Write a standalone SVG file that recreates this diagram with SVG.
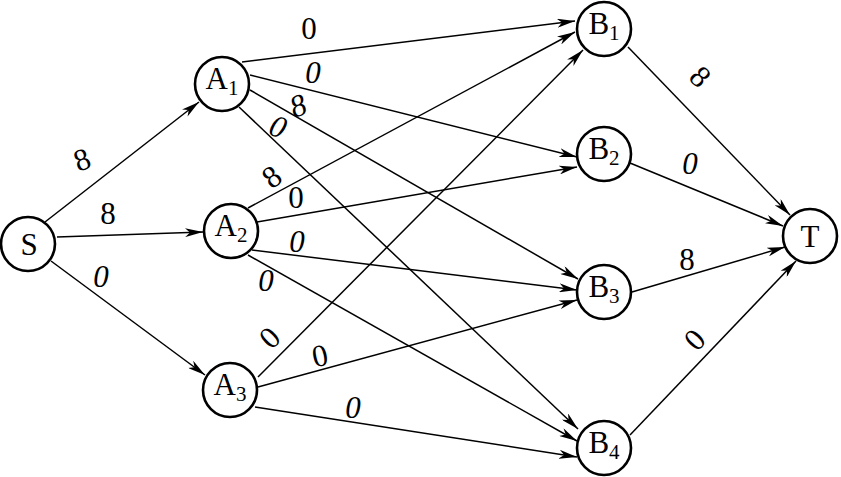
<svg xmlns="http://www.w3.org/2000/svg" width="841" height="477" viewBox="0 0 841 477">
<defs>
<marker id="arr" markerUnits="userSpaceOnUse" markerWidth="19" markerHeight="9" refX="18" refY="4.5" orient="auto">
<path d="M0,0 L18,4.5 L0,9 L5,4.5 Z" fill="#000"/>
</marker>
<style>
.node circle{fill:#fff;stroke:#000;stroke-width:2.6}
.node text{font-family:"Liberation Serif","Times New Roman",serif;font-size:31px;fill:#000;text-anchor:middle}
.node tspan.sub{font-size:21px}
#edges line{stroke:#000;stroke-width:1.5;marker-end:url(#arr)}
.lbl{font-family:"Liberation Serif","Times New Roman",serif;font-size:31px;fill:#000;text-anchor:middle}
.it{font-style:italic}
</style>
</defs>
<rect width="841" height="477" fill="#fff"/>
<g id="edges">
<line x1="45" y1="222" x2="199" y2="102"/>
<line x1="57" y1="237" x2="203" y2="232"/>
<line x1="51" y1="261" x2="205" y2="375"/>
<line x1="242" y1="62" x2="575" y2="21"/>
<line x1="250" y1="75" x2="577" y2="157"/>
<line x1="250" y1="90" x2="578" y2="279"/>
<line x1="239" y1="107" x2="578" y2="429"/>
<line x1="248" y1="208" x2="575" y2="32"/>
<line x1="257" y1="222" x2="577" y2="167"/>
<line x1="252" y1="250" x2="577" y2="290"/>
<line x1="248" y1="255" x2="577" y2="441"/>
<line x1="258" y1="377" x2="583" y2="50"/>
<line x1="258" y1="387" x2="577" y2="300"/>
<line x1="255" y1="407" x2="577" y2="457"/>
<line x1="628" y1="47" x2="790" y2="215"/>
<line x1="630" y1="163" x2="783" y2="226"/>
<line x1="632" y1="292" x2="785" y2="247"/>
<line x1="630" y1="435" x2="796" y2="261"/>
</g>
<g id="labels">
<text class="lbl" transform="translate(82,160) rotate(-20)" y="10">8</text>
<text class="lbl" transform="translate(108,214)" y="10">8</text>
<text class="lbl it" transform="translate(101,277)" y="10">0</text>
<text class="lbl" transform="translate(309,29)" y="10">0</text>
<text class="lbl it" transform="translate(313,73)" y="10">0</text>
<text class="lbl it" transform="translate(298,106) rotate(-20)" y="10">8</text>
<text class="lbl it" transform="translate(278,127) rotate(20)" y="10">0</text>
<text class="lbl" transform="translate(272,177) rotate(-37)" y="10">8</text>
<text class="lbl" transform="translate(296,198)" y="10">0</text>
<text class="lbl it" transform="translate(297,242)" y="10">0</text>
<text class="lbl it" transform="translate(266,281)" y="10">0</text>
<text class="lbl" transform="translate(270,338) rotate(-45)" y="10">0</text>
<text class="lbl" transform="translate(320,356) rotate(-12)" y="10">0</text>
<text class="lbl it" transform="translate(353,408)" y="10">0</text>
<text class="lbl" transform="translate(700,77) rotate(45)" y="10">8</text>
<text class="lbl it" transform="translate(690,164)" y="10">0</text>
<text class="lbl" transform="translate(687,260)" y="10">8</text>
<text class="lbl" transform="translate(695,340) rotate(-46)" y="10">0</text>
</g>
<g id="S" class="node"><circle cx="28" cy="244" r="27"/><text x="29" y="255">S</text></g>
<g id="A1" class="node"><circle cx="222" cy="84" r="27"/><text x="222" y="89">A<tspan class="sub" dy="6">1</tspan></text></g>
<g id="A2" class="node"><circle cx="231" cy="231" r="27"/><text x="231" y="236">A<tspan class="sub" dy="6">2</tspan></text></g>
<g id="A3" class="node"><circle cx="230" cy="390" r="27"/><text x="230" y="395">A<tspan class="sub" dy="6">3</tspan></text></g>
<g id="B1" class="node"><circle cx="604" cy="29" r="27"/><text x="604" y="34">B<tspan class="sub" dy="6">1</tspan></text></g>
<g id="B2" class="node"><circle cx="604" cy="154" r="27"/><text x="604" y="159">B<tspan class="sub" dy="6">2</tspan></text></g>
<g id="B3" class="node"><circle cx="604" cy="292" r="27"/><text x="604" y="297">B<tspan class="sub" dy="6">3</tspan></text></g>
<g id="B4" class="node"><circle cx="604" cy="448" r="27"/><text x="604" y="453">B<tspan class="sub" dy="6">4</tspan></text></g>
<g id="T" class="node"><circle cx="810" cy="236" r="27"/><text x="810" y="247">T</text></g>
</svg>
